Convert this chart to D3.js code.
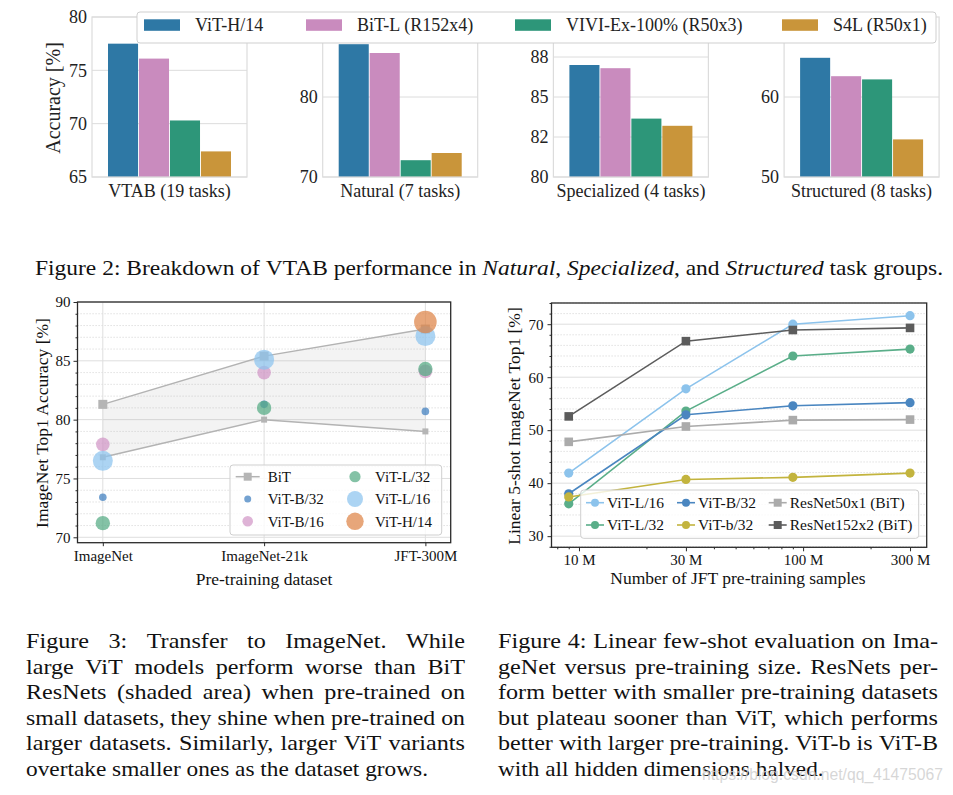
<!DOCTYPE html>
<html><head><meta charset="utf-8">
<script src="https://cdn.jsdelivr.net/npm/d3@7"></script>
<style>
body{margin:0;background:#fff;}
svg{display:block;font-family:"Liberation Serif","Times New Roman",serif;}
</style></head><body>
<svg id="c" width="953" height="795"></svg>
<script>
// ---------- Figure 2 data ----------
const vtabGroups = ["VTAB (19 tasks)", "Natural (7 tasks)", "Specialized (4 tasks)", "Structured (8 tasks)"];
const vtabModels = ["ViT-H/14", "BiT-L (R152x4)", "VIVI-Ex-100% (R50x3)", "S4L (R50x1)"];
const vtabViT  = [77.5, 86.6, 87.0, 64.9];
const vtabBiT  = [76.1, 85.5, 86.8, 62.6];
const vtabVIVI = [70.3, 72.1, 83.65, 62.2];
const vtabS4L  = [67.4, 73.0, 83.2, 54.7];
const vtabDomains = [[65, 80], [70, 90], [80, 90], [50, 70]];
const vtabTickVals = [[65, 70, 75, 80], [70, 80], [80, 82.5, 85, 87.5], [50, 60]];
const vtabTickLabels = [["65", "70", "75", "80"], ["70", "80"], ["80", "82", "85", "88"], ["50", "60"]];

// ---------- Figure 3 data ----------
const datasets = ["ImageNet", "ImageNet-21k", "JFT-300M"];
const bitUpper = [81.3, 85.4, 87.7];
const bitLower = [76.8, 80.0, 79.0];
const vitB32 = [73.4, 81.3, 80.7];
const vitB16 = [77.9, 84.0, 84.1];
const vitL32 = [71.2, 81.0, 84.3];
const vitL16 = [76.5, 85.1, 87.1];
const vitH14 = [null, null, 88.3];
const f3YTicks = [70, 75, 80, 85, 90];

// ---------- Figure 4 data ----------
const jftSizes = [9e6, 30e6, 90e6, 300e6];
const fsL16  = [41.9, 57.8, 70.0, 71.6];
const fsL32  = [36.1, 53.6, 64.0, 65.3];
const fsB32  = [38.0, 52.9, 54.6, 55.2];
const fsb32  = [37.4, 40.7, 41.1, 41.9];
const fsR50  = [47.8, 50.7, 51.9, 52.0];
const fsR152 = [52.6, 66.8, 68.9, 69.3];
const fsXTickVals = [1e7, 3e7, 1e8, 3e8];
const fsXTickLabels = ["10 M", "30 M", "100 M", "300 M"];
const fsYTicks = [30, 40, 50, 60, 70];

// ---------- captions ----------
const cap2 = [["Figure"],["2:"],["Breakdown"],["of"],["VTAB"],["performance"],["in"],["Natural","it"],[",","glue"],["Specialized","it"],[",","glue"],["and"],["Structured","it"],["task"],["groups."]];
const cap3 = ["Figure 3: Transfer to ImageNet. While",
  "large ViT models perform worse than BiT",
  "ResNets (shaded area) when pre-trained on",
  "small datasets, they shine when pre-trained on",
  "larger datasets. Similarly, larger ViT variants",
  "overtake smaller ones as the dataset grows."];
const cap4 = ["Figure 4: Linear few-shot evaluation on Ima-",
  "geNet versus pre-training size. ResNets per-",
  "form better with smaller pre-training datasets",
  "but plateau sooner than ViT, which performs",
  "better with larger pre-training. ViT-b is ViT-B",
  "with all hidden dimensions halved."];

// ================= drawing =================
const svg = d3.select("#c");
const SERIF = '"Liberation Serif","Times New Roman",serif';

// ---------- Figure 2 ----------
const vtabColors = ["#2e78a5", "#c98bbe", "#2d9679", "#c9953a"];
const topY0 = 17, topY1 = 177, panelW = 155, panelLeft0 = 92, panelStep = 230.7;
const vtabSeries = [vtabViT, vtabBiT, vtabVIVI, vtabS4L];
vtabGroups.forEach((grp, i) => {
  const left = panelLeft0 + i * panelStep, right = left + panelW;
  const y = d3.scaleLinear().domain(vtabDomains[i]).range([topY1, topY0]);
  const xb = d3.scaleBand().domain(vtabModels).range([left + 16, right - 16]).paddingInner(0.03);
  const g = svg.append("g");
  g.selectAll("line.grid").data(vtabTickVals[i]).join("line")
    .attr("x1", left).attr("x2", right).attr("y1", d => y(d)).attr("y2", d => y(d))
    .attr("stroke", "#dcdcdc").attr("stroke-width", 1);
  const vals = vtabSeries.map(s => s[i]);
  g.selectAll("rect.bar").data(vals).join("rect")
    .attr("x", (d, j) => xb(vtabModels[j])).attr("width", xb.bandwidth())
    .attr("y", d => y(d)).attr("height", d => topY1 - y(d))
    .attr("fill", (d, j) => vtabColors[j]);
  g.append("rect").attr("x", left).attr("y", topY0).attr("width", panelW).attr("height", topY1 - topY0)
    .attr("fill", "none").attr("stroke", "#dcdcdc").attr("stroke-width", 1.2);
  const ax = d3.axisLeft(y).tickValues(vtabTickVals[i]).tickFormat((d, k) => vtabTickLabels[i][k]).tickSize(0).tickPadding(5);
  const ag = g.append("g").attr("transform", `translate(${left},0)`).call(ax);
  ag.select(".domain").remove();
  ag.attr("font-family", SERIF).attr("font-size", 18);
  ag.selectAll("text").attr("fill", "#222");
  g.append("text").attr("x", (left + right) / 2).attr("y", 197).attr("text-anchor", "middle")
    .attr("font-size", 18).attr("fill", "#222").text(grp);
});
svg.append("text").attr("transform", "translate(60,98) rotate(-90)").attr("text-anchor", "middle")
  .attr("font-size", 20).attr("fill", "#222").text("Accuracy [%]");
// legend
const topLeg = svg.append("g");
topLeg.append("rect").attr("x", 137).attr("y", 12).attr("width", 799).attr("height", 31).attr("rx", 3)
  .attr("fill", "#fff").attr("stroke", "#cfcfcf");
const topLegX = [144, 306, 515, 782];
vtabModels.forEach((m, j) => {
  topLeg.append("rect").attr("x", topLegX[j]).attr("y", 19.3).attr("width", 36).attr("height", 11.5).attr("fill", vtabColors[j]);
  topLeg.append("text").attr("x", topLegX[j] + 51).attr("y", 31).attr("font-size", 18).attr("fill", "#222").text(m);
});

// ---------- caption helpers ----------
function layoutLine(g, tokens, x0, y, width, fs, opts) {
  const nodes = tokens.map(t => g.append("text").attr("y", y).attr("font-size", fs).attr("fill", "#111")
    .attr("font-style", t.it ? "italic" : "normal").text(t.t));
  const ws = nodes.map(n => n.node().getComputedTextLength());
  const sum = d3.sum(ws);
  const nGaps = tokens.filter((t, i) => i > 0 && !t.glue).length;
  const sp = 0.25 * fs;
  let sx, gap;
  if (opts.justify) {
    sx = Math.min(opts.sxMax, width / (sum + sp * nGaps));
    gap = (width - sx * sum) / nGaps;
  } else { sx = opts.sx; gap = sp * sx; }
  let x = x0;
  nodes.forEach((n, i) => {
    if (i > 0 && !tokens[i].glue) x += gap;
    n.attr("x", x).attr("textLength", ws[i] * sx).attr("lengthAdjust", "spacingAndGlyphs");
    x += ws[i] * sx;
  });
}
const capG = svg.append("g");
layoutLine(capG, cap2.map(c => ({t: c[0], it: c[1] === "it", glue: c[1] === "glue"})), 35, 274.5, 908, 22, {justify: true, sxMax: 1.1});
function paragraph(lines, x0, width) {
  lines.forEach((ln, k) => {
    const toks = ln.split(" ").map(t => ({t}));
    const last = k === lines.length - 1;
    layoutLine(capG, toks, x0, 648 + k * 25.6, width, 21, last ? {justify: false, sx: 1.11} : {justify: true, sxMax: 1.15});
  });
}
paragraph(cap3, 26, 439);
paragraph(cap4, 498, 440);
svg.append("text").attr("x", 702).attr("y", 780).attr("font-family", '"Liberation Sans",Arial,sans-serif')
  .attr("font-size", 17).attr("fill", "#cfcfcf").attr("fill-opacity", 0.85)
  .attr("textLength", 241).attr("lengthAdjust", "spacingAndGlyphs").text("https://blog.csdn.net/qq_41475067");

// ---------- Figure 3 ----------
const f3 = {l: 77.5, r: 450.7, t: 302, b: 542.7};
const x3 = d3.scaleLinear().domain([-0.157, 2.157]).range([f3.l, f3.r]);
const y3 = d3.scaleLinear().domain([69.54, 90]).range([f3.b, f3.t]);
const g3 = svg.append("g");
const minor3 = d3.range(70, 90, 1).filter(v => v % 5 !== 0);
g3.selectAll("line.mg").data(minor3).join("line").attr("x1", f3.l).attr("x2", f3.r)
  .attr("y1", d => y3(d)).attr("y2", d => y3(d)).attr("stroke", "#cfcfcf").attr("stroke-dasharray", "1.2,1.8").attr("stroke-width", 0.8);
g3.selectAll("line.Mg").data(f3YTicks).join("line").attr("x1", f3.l).attr("x2", f3.r)
  .attr("y1", d => y3(d)).attr("y2", d => y3(d)).attr("stroke", "#dedede");
g3.selectAll("line.vg").data(datasets).join("line").attr("x1", (d, i) => x3(i)).attr("x2", (d, i) => x3(i))
  .attr("y1", f3.t).attr("y2", f3.b).attr("stroke", "#dedede");
const area = d3.area().x((d, i) => x3(i)).y0((d, i) => y3(bitLower[i])).y1((d, i) => y3(bitUpper[i]));
g3.append("path").datum(bitUpper).attr("d", area).attr("fill", "#a0a0a0").attr("fill-opacity", 0.13);
const line3 = arr => d3.line().x((d, i) => x3(i)).y(d => y3(d))(arr);
[bitUpper, bitLower].forEach((arr, k) => {
  g3.append("path").attr("d", line3(arr)).attr("fill", "none").attr("stroke", "#b3b3b3").attr("stroke-width", 1.5);
  const s = k === 0 ? 9 : 6;
  g3.selectAll(null).data(arr).join("rect").attr("x", (d, i) => x3(i) - s / 2).attr("y", d => y3(d) - s / 2)
    .attr("width", s).attr("height", s).attr("fill", "#b5b5b5");
});
const vit3 = [
  {name: "ViT-B/32", vals: vitB32, r: 3.8, lr: 3.5, c: "#3f7ebf"},
  {name: "ViT-B/16", vals: vitB16, r: 6.8, lr: 5.3, c: "#d195c6"},
  {name: "ViT-L/32", vals: vitL32, r: 7.2, lr: 5.6, c: "#55ab84"},
  {name: "ViT-L/16", vals: vitL16, r: 10, lr: 8, c: "#8cc4ef"},
  {name: "ViT-H/14", vals: vitH14, r: 11.3, lr: 8.7, c: "#de8447"}
];
vit3.forEach(s => {
  g3.selectAll(null).data(s.vals.map((v, i) => ({v, i})).filter(d => d.v != null)).join("circle")
    .attr("cx", d => x3(d.i)).attr("cy", d => y3(d.v)).attr("r", s.r).attr("fill", s.c).attr("fill-opacity", 0.72);
});
g3.append("rect").attr("x", f3.l).attr("y", f3.t).attr("width", f3.r - f3.l).attr("height", f3.b - f3.t)
  .attr("fill", "none").attr("stroke", "#2a2a2a").attr("stroke-width", 1.3);
const ay3 = g3.append("g").attr("transform", `translate(${f3.l},0)`)
  .call(d3.axisLeft(y3).tickValues(f3YTicks).tickSize(4).tickPadding(3).tickFormat(d3.format("d")));
const ay3m = g3.append("g").attr("transform", `translate(${f3.l},0)`)
  .call(d3.axisLeft(y3).tickValues(minor3).tickSize(2).tickFormat(""));
const ax3 = g3.append("g").attr("transform", `translate(0,${f3.b})`)
  .call(d3.axisBottom(x3).tickValues([0, 1, 2]).tickSize(3.5).tickPadding(4.5).tickFormat(i => datasets[i]));
[ay3, ay3m, ax3].forEach(a => { a.select(".domain").remove(); a.attr("font-family", SERIF).attr("font-size", 15);
  a.selectAll("line").attr("stroke", "#2a2a2a"); a.selectAll("text").attr("fill", "#111"); });
g3.append("text").attr("x", 264).attr("y", 585).attr("text-anchor", "middle").attr("font-size", 17.5).attr("fill", "#111").text("Pre-training dataset");
g3.append("text").attr("transform", "translate(48,423) rotate(-90)").attr("text-anchor", "middle").attr("font-size", 17.5).attr("fill", "#111").text("ImageNet Top1 Accuracy [%]");
// legend fig 3
const lg3 = g3.append("g");
lg3.append("rect").attr("x", 230).attr("y", 465).attr("width", 211.7).attr("height", 70).attr("rx", 3)
  .attr("fill", "#fff").attr("fill-opacity", 0.8).attr("stroke", "#cfcfcf");
const leg3Rows = [476.7, 499, 521.3];
const leg3Items = [{name: "BiT", bit: true}].concat(vit3);
leg3Items.forEach((it, k) => {
  const col = Math.floor(k / 3), row = k % 3;
  const mx = col === 0 ? 247.7 : 355, tx = col === 0 ? 267.7 : 375, yy = leg3Rows[row];
  if (it.bit) {
    lg3.append("line").attr("x1", mx - 12).attr("x2", mx + 12).attr("y1", yy).attr("y2", yy).attr("stroke", "#b3b3b3").attr("stroke-width", 1.5);
    lg3.append("rect").attr("x", mx - 4).attr("y", yy - 4).attr("width", 8).attr("height", 8).attr("fill", "#b5b5b5");
  } else {
    lg3.append("circle").attr("cx", mx).attr("cy", yy).attr("r", it.lr).attr("fill", it.c).attr("fill-opacity", 0.72);
  }
  lg3.append("text").attr("x", tx).attr("y", yy).attr("dy", "0.35em").attr("font-size", 15).attr("fill", "#111").text(it.name);
});

// ---------- Figure 4 ----------
const f4 = {l: 551.5, r: 926.7, t: 303, b: 547.3};
const x4 = d3.scaleLog().domain([7.54e6, 3.56e8]).range([f4.l, f4.r]);
const y4 = d3.scaleLinear().domain([27.9, 74.0]).range([f4.b, f4.t]);
const g4 = svg.append("g");
const minor4 = d3.range(28, 75, 2).filter(v => v % 10 !== 0);
g4.selectAll("line.mg").data(minor4).join("line").attr("x1", f4.l).attr("x2", f4.r)
  .attr("y1", d => y4(d)).attr("y2", d => y4(d)).attr("stroke", "#cfcfcf").attr("stroke-dasharray", "1.2,1.8").attr("stroke-width", 0.8);
g4.selectAll("line.Mg").data(fsYTicks).join("line").attr("x1", f4.l).attr("x2", f4.r)
  .attr("y1", d => y4(d)).attr("y2", d => y4(d)).attr("stroke", "#dedede");
const fsSeries = [
  {name: "ViT-L/16", vals: fsL16, c: "#8cc3ec", sq: false},
  {name: "ViT-L/32", vals: fsL32, c: "#5aae89", sq: false},
  {name: "ViT-B/32", vals: fsB32, c: "#4a86c0", sq: false},
  {name: "ViT-b/32", vals: fsb32, c: "#c3b43e", sq: false},
  {name: "ResNet50x1 (BiT)", vals: fsR50, c: "#ababab", sq: true},
  {name: "ResNet152x2 (BiT)", vals: fsR152, c: "#5c5c5c", sq: true}
];
const line4 = d3.line().x((d, i) => x4(jftSizes[i])).y(d => y4(d));
fsSeries.forEach(s => {
  g4.append("path").attr("d", line4(s.vals)).attr("fill", "none").attr("stroke", s.c).attr("stroke-width", 1.6);
  if (s.sq) {
    g4.selectAll(null).data(s.vals).join("rect").attr("x", (d, i) => x4(jftSizes[i]) - 4.3).attr("y", d => y4(d) - 4.3)
      .attr("width", 8.6).attr("height", 8.6).attr("fill", s.c);
  } else {
    g4.selectAll(null).data(s.vals).join("circle").attr("cx", (d, i) => x4(jftSizes[i])).attr("cy", d => y4(d))
      .attr("r", 4.6).attr("fill", s.c);
  }
});
g4.append("rect").attr("x", f4.l).attr("y", f4.t).attr("width", f4.r - f4.l).attr("height", f4.b - f4.t)
  .attr("fill", "none").attr("stroke", "#2a2a2a").attr("stroke-width", 1.3);
const ay4 = g4.append("g").attr("transform", `translate(${f4.l},0)`)
  .call(d3.axisLeft(y4).tickValues(fsYTicks).tickSize(4).tickPadding(4).tickFormat(d3.format("d")));
const ay4m = g4.append("g").attr("transform", `translate(${f4.l},0)`)
  .call(d3.axisLeft(y4).tickValues(minor4.filter(v => v <= 74)).tickSize(2).tickFormat(""));
const ax4 = g4.append("g").attr("transform", `translate(0,${f4.b})`)
  .call(d3.axisBottom(x4).tickValues(fsXTickVals).tickSize(4).tickPadding(3).tickFormat((d, k) => fsXTickLabels[k]));
const minorX4 = [8e6, 9e6, 2e7, 4e7, 5e7, 6e7, 7e7, 8e7, 9e7, 2e8];
const ax4m = g4.append("g").attr("transform", `translate(0,${f4.b})`)
  .call(d3.axisBottom(x4).tickValues(minorX4).tickSize(2).tickFormat(""));
[ay4, ay4m, ax4, ax4m].forEach(a => { a.select(".domain").remove(); a.attr("font-family", SERIF).attr("font-size", 15);
  a.selectAll("line").attr("stroke", "#2a2a2a"); a.selectAll("text").attr("fill", "#111"); });
g4.append("text").attr("x", 738).attr("y", 584).attr("text-anchor", "middle").attr("font-size", 17.5).attr("fill", "#111").text("Number of JFT pre-training samples");
g4.append("text").attr("transform", "translate(520,426) rotate(-90)").attr("text-anchor", "middle").attr("font-size", 17.5).attr("fill", "#111").text("Linear 5-shot ImageNet Top1 [%]");
// legend fig 4
const lg4 = g4.append("g");
lg4.append("rect").attr("x", 580.7).attr("y", 490).attr("width", 338).attr("height", 48.3).attr("rx", 3)
  .attr("fill", "#fff").attr("fill-opacity", 0.8).attr("stroke", "#cfcfcf");
const leg4X = [586, 677, 768.7], leg4Y = [502.7, 525];
fsSeries.forEach((s, k) => {
  const col = Math.floor(k / 2), row = k % 2;
  const lx = leg4X[col], yy = leg4Y[row];
  lg4.append("line").attr("x1", lx).attr("x2", lx + 18).attr("y1", yy).attr("y2", yy).attr("stroke", s.c).attr("stroke-width", 1.6);
  if (s.sq) lg4.append("rect").attr("x", lx + 9 - 4).attr("y", yy - 4).attr("width", 8).attr("height", 8).attr("fill", s.c);
  else lg4.append("circle").attr("cx", lx + 9).attr("cy", yy).attr("r", 4).attr("fill", s.c);
  lg4.append("text").attr("x", lx + 21).attr("y", yy).attr("dy", "0.35em").attr("font-size", 15.5).attr("fill", "#111").text(s.name);
});
</script>
</body></html>
